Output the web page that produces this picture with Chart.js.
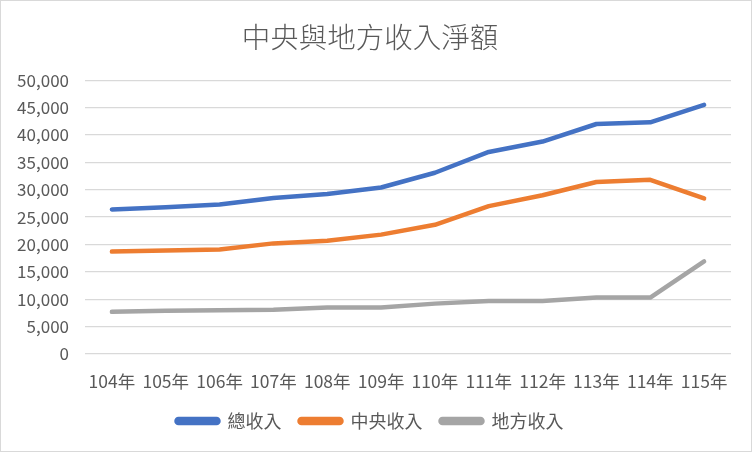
<!DOCTYPE html>
<html>
<head>
<meta charset="utf-8">
<script src="https://cdn.jsdelivr.net/npm/chart.js@4"></script>
<style>
  body { margin: 0; background: #fff; }
  .box { width: 750px; height: 450px; border: 1px solid #d9d9d9; }
</style>
</head>
<body>
<div class="box"><canvas id="myChart" width="750" height="450"></canvas></div>
<script>
const years = ["104年", "105年", "106年", "107年", "108年", "109年",
    "110年", "111年", "112年", "113年", "114年", "115年"];

const totalIncome = [26400, 26800, 27300, 28500, 29200, 30400,
    33100, 36900, 38800, 42000, 42300, 45500];
const centralIncome = [18700, 18900, 19100, 20200, 20700, 21800,
    23600, 27000, 29000, 31400, 31800, 28400];
const localIncome = [7700, 7900, 8000, 8100, 8500, 8500,
    9200, 9700, 9700, 10300, 10300, 16900];

const yTicks = [0, 5000, 10000, 15000, 20000, 25000, 30000, 35000, 40000, 45000, 50000];

const textColor = "#595959";
const fontFamily = "'Noto Sans CJK TC', 'Noto Sans', sans-serif";

const ctx = document.getElementById("myChart").getContext("2d");

function line(label, data, color) {
    return {
        label: label,
        data: data,
        borderColor: color,
        backgroundColor: color,
        borderWidth: 4.5,
        borderCapStyle: "round",
        borderJoinStyle: "round",
        pointRadius: 0,
        tension: 0
    };
}

new Chart(ctx, {
    type: "line",
    data: {
        labels: years,
        datasets: [
            line("總收入", totalIncome, "#4472C4"),
            line("中央收入", centralIncome, "#ED7D31"),
            line("地方收入", localIncome, "#A5A5A5")
        ]
    },
    options: {
        responsive: false,
        animation: false,
        layout: {
            padding: { left: 8, right: 20, top: 0, bottom: 11 }
        },
        plugins: {
            title: {
                display: true,
                text: "中央與地方收入淨額",
                color: textColor,
                font: { family: fontFamily, size: 28.5, weight: "300" },
                padding: { top: 19, bottom: 26 }
            },
            legend: {
                position: "bottom",
                labels: {
                    color: textColor,
                    font: { family: fontFamily, size: 18 },
                    boxWidth: 42,
                    boxHeight: 4,
                    useBorderRadius: true,
                    borderRadius: 2,
                    padding: 18
                }
            },
            tooltip: { enabled: false }
        },
        scales: {
            x: {
                offset: true,
                afterFit: (scale) => {
                    scale.height = 40;
                },
                grid: { display: false },
                border: { display: false },
                ticks: {
                    color: textColor,
                    font: { family: fontFamily, size: 17.5 },
                    maxRotation: 0,
                    autoSkip: false,
                    padding: 9
                }
            },
            y: {
                min: 0,
                max: 50000,
                afterBuildTicks: (scale) => {
                    scale.ticks = yTicks.map(v => ({ value: v }));
                },
                afterFit: (scale) => {
                    scale.width = 76;
                },
                grid: {
                    color: "#d9d9d9",
                    lineWidth: 1.3,
                    drawTicks: false
                },
                border: { display: false },
                ticks: {
                    color: textColor,
                    font: { family: fontFamily, size: 17 },
                    padding: 16,
                    callback: (value) => value.toLocaleString("en-US")
                }
            }
        }
    }
});
</script>
</body>
</html>
